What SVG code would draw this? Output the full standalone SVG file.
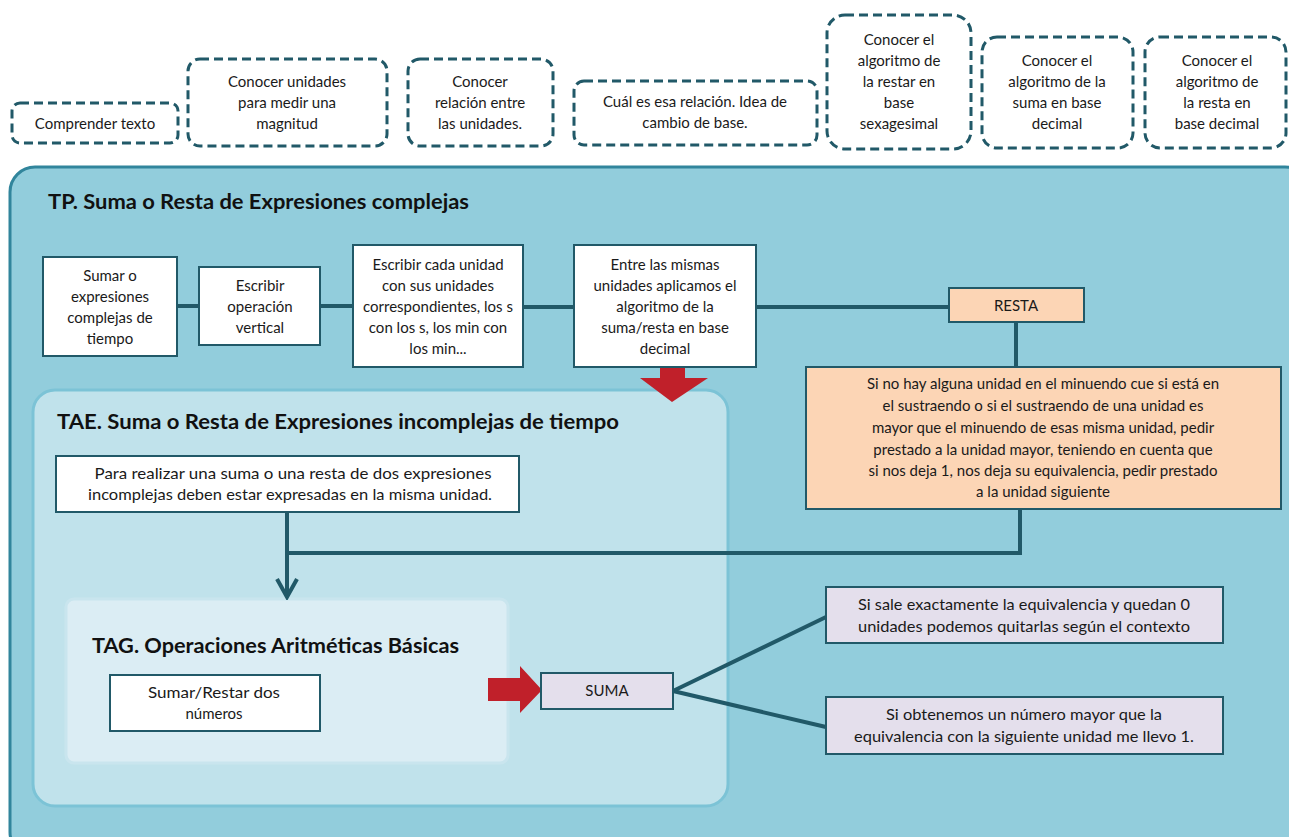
<svg xmlns="http://www.w3.org/2000/svg" width="1289" height="837" viewBox="0 0 1289 837">
<defs>
<style>
.t{font-family:Lato,"Open Sans","Liberation Sans",sans-serif;font-size:15px;fill:#1a1a1a;text-anchor:middle}
.h{font-family:Lato,"Open Sans","Liberation Sans",sans-serif;font-size:21px;font-weight:bold;fill:#111}
.dash{fill:#fff;stroke:#215968;stroke-width:3;stroke-dasharray:9 5}
.box{fill:#fff;stroke:#215968;stroke-width:2}
.c{fill:none;stroke:#215968;stroke-width:4}
.red{fill:#c0202a}
</style>
<marker id="chev" viewBox="0 0 24 26" refX="21" refY="13" markerWidth="24" markerHeight="26" markerUnits="userSpaceOnUse" orient="auto">
<path d="M3 3 L21 13 L3 23" fill="none" stroke="#215968" stroke-width="4"/>
</marker>
</defs>
<rect width="1289" height="837" fill="#fff"/>

<g id="n-comprender"><rect class="dash" x="12" y="103" width="166" height="40" rx="8"/><text class="t" x="95" y="129">Comprender texto</text></g>
<g id="n-unidades"><rect class="dash" x="188" y="59" width="199" height="87" rx="12"/><text class="t" x="287" y="87">Conocer unidades</text><text class="t" x="287" y="108">para medir una</text><text class="t" x="287" y="129">magnitud</text></g>
<g id="n-relacion"><rect class="dash" x="408" y="59" width="145" height="87" rx="12"/><text class="t" x="480" y="87">Conocer</text><text class="t" x="480" y="108">relación entre</text><text class="t" x="480" y="129">las unidades.</text></g>
<g id="n-cual"><rect class="dash" x="574" y="81" width="243" height="64" rx="10"/><text class="t" x="695" y="107">Cuál es esa relación. Idea de</text><text class="t" x="695" y="128">cambio de base.</text></g>
<g id="n-sexa"><rect class="dash" x="827" y="15" width="144" height="134" rx="18"/><text class="t" x="899" y="45">Conocer el</text><text class="t" x="899" y="66">algoritmo  de</text><text class="t" x="899" y="87">la restar en</text><text class="t" x="899" y="108">base</text><text class="t" x="899" y="129">sexagesimal</text></g>
<g id="n-sumadec"><rect class="dash" x="982" y="37" width="151" height="111" rx="15"/><text class="t" x="1057" y="66">Conocer el</text><text class="t" x="1057" y="87">algoritmo de la</text><text class="t" x="1057" y="108">suma en base</text><text class="t" x="1057" y="129">decimal</text></g>
<g id="n-restadec"><rect class="dash" x="1145" y="37" width="141" height="111" rx="15"/><text class="t" x="1217" y="66">Conocer el</text><text class="t" x="1217" y="87">algoritmo de</text><text class="t" x="1217" y="108">la resta en</text><text class="t" x="1217" y="129">base decimal</text></g>

<g id="tp"><rect x="10" y="167" width="1300" height="690" rx="25" fill="#92cddc" stroke="#31859c" stroke-width="3"/><text class="h" x="48" y="209" textLength="421" lengthAdjust="spacingAndGlyphs">TP. Suma o Resta de Expresiones complejas</text></g>

<g id="tae"><rect x="33" y="390" width="695" height="416" rx="22" fill="#c0e2eb" stroke="#7cc3d6" stroke-width="3"/><text class="h" x="57" y="429" textLength="562" lengthAdjust="spacingAndGlyphs">TAE. Suma o Resta de Expresiones incomplejas de tiempo</text></g>

<g id="tag"><rect x="66" y="599" width="442" height="164" rx="8" fill="#dbedf4" stroke="#c9e5ee" stroke-width="3"/><text class="h" x="92" y="653" textLength="367" lengthAdjust="spacingAndGlyphs">TAG. Operaciones Aritméticas Básicas</text></g>

<g id="connectors">
<line class="c" x1="177" y1="306" x2="199" y2="306"/>
<line class="c" x1="320" y1="306" x2="353" y2="306"/>
<line class="c" x1="523" y1="307" x2="574" y2="307"/>
<line class="c" x1="756" y1="307" x2="949" y2="307"/>
<line class="c" x1="1016" y1="322" x2="1016" y2="367"/>
<polyline class="c" points="1020,509 1020,553 287,553"/>
<line class="c" x1="287" y1="512" x2="287" y2="597" marker-end="url(#chev)"/>
<line class="c" x1="673" y1="691" x2="826" y2="617"/>
<line class="c" x1="673" y1="691" x2="826" y2="727"/>
<polygon class="red" points="660,364 685,364 685,378 708,378 672,402 640,378 660,378"/>
<polygon class="red" points="488,678 520,678 520,666 542,690 520,713 520,701 488,701"/>
</g>

<g id="n-sumar"><rect class="box" x="43" y="257" width="134" height="99"/><text class="t" x="110" y="281">Sumar o</text><text class="t" x="110" y="302">expresiones</text><text class="t" x="110" y="323">complejas de</text><text class="t" x="110" y="344">tiempo</text></g>
<g id="n-escribir"><rect class="box" x="199" y="267" width="121" height="78"/><text class="t" x="260" y="291">Escribir</text><text class="t" x="260" y="312">operación</text><text class="t" x="260" y="333">vertical</text></g>
<g id="n-cada"><rect class="box" x="353" y="245" width="170" height="122"/><text class="t" x="438" y="270">Escribir cada unidad</text><text class="t" x="438" y="291">con sus unidades</text><text class="t" x="438" y="312">correspondientes, los s</text><text class="t" x="438" y="333">con los s, los min con</text><text class="t" x="438" y="354">los min...</text></g>
<g id="n-entre"><rect class="box" x="574" y="245" width="182" height="122"/><text class="t" x="665" y="270">Entre las mismas</text><text class="t" x="665" y="291">unidades aplicamos el</text><text class="t" x="665" y="312">algoritmo de la</text><text class="t" x="665" y="333">suma/resta en base</text><text class="t" x="665" y="354">decimal</text></g>
<g id="n-resta"><rect x="949" y="288" width="135" height="34" fill="#fcd5b5" stroke="#215968" stroke-width="2"/><text class="t" x="1016" y="311">RESTA</text></g>
<g id="n-prestado"><rect x="806" y="367" width="475" height="142" fill="#fcd5b5" stroke="#215968" stroke-width="2"/>
<text class="t" x="1043" y="389">Si no hay alguna unidad en el minuendo cue si está en</text>
<text class="t" x="1043" y="411">el sustraendo o si el sustraendo de una unidad es</text>
<text class="t" x="1043" y="433">mayor que el minuendo de esas misma unidad, pedir</text>
<text class="t" x="1043" y="455">prestado a la unidad mayor, teniendo en cuenta que</text>
<text class="t" x="1043" y="476">si nos deja 1, nos deja su equivalencia, pedir prestado</text>
<text class="t" x="1043" y="497">a la unidad siguiente</text></g>
<g id="n-para"><rect class="box" x="56" y="456" width="463" height="56"/><text class="t" x="293" y="479" textLength="397" lengthAdjust="spacingAndGlyphs">Para realizar una suma o una resta de dos expresiones</text><text class="t" x="290" y="500" textLength="404" lengthAdjust="spacingAndGlyphs">incomplejas deben estar expresadas en la misma unidad.</text></g>
<g id="n-sumarrestar"><rect class="box" x="110" y="675" width="210" height="56"/><text class="t" x="214" y="698" textLength="132" lengthAdjust="spacingAndGlyphs">Sumar/Restar dos</text><text class="t" x="214" y="719">números</text></g>
<g id="n-suma"><rect x="541" y="673" width="132" height="36" fill="#e4dfec" stroke="#215968" stroke-width="2"/><text class="t" x="607" y="696">SUMA</text></g>
<g id="n-sisale"><rect x="826" y="587" width="397" height="56" fill="#e4dfec" stroke="#215968" stroke-width="2"/><text class="t" x="1024" y="610" textLength="332" lengthAdjust="spacingAndGlyphs">Si sale exactamente la equivalencia y quedan 0</text><text class="t" x="1024" y="632" textLength="332" lengthAdjust="spacingAndGlyphs">unidades podemos quitarlas según el contexto</text></g>
<g id="n-siobt"><rect x="826" y="697" width="397" height="57" fill="#e4dfec" stroke="#215968" stroke-width="2"/><text class="t" x="1024" y="720" textLength="276" lengthAdjust="spacingAndGlyphs">Si obtenemos un número mayor que la</text><text class="t" x="1024" y="742" textLength="340" lengthAdjust="spacingAndGlyphs">equivalencia con la siguiente unidad me llevo 1.</text></g>
</svg>
